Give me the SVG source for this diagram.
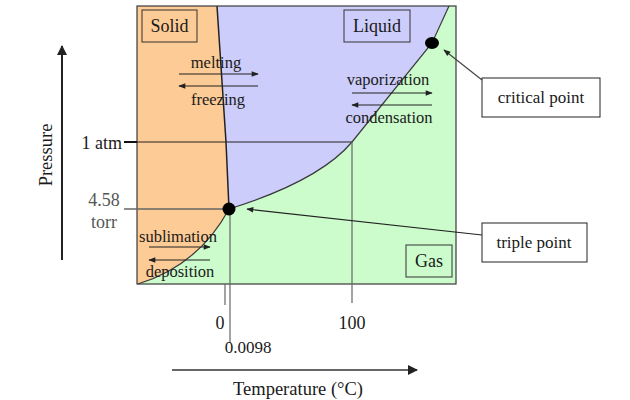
<svg xmlns="http://www.w3.org/2000/svg" width="630" height="400" viewBox="0 0 630 400">
<defs>
<style>
text{font-family:"Liberation Serif","Times New Roman",serif;fill:#1a1a1a;}
.lbl{font-size:16.5px;}
.big{font-size:18px;}
.ax{font-size:17px;}
.axt{font-size:18.5px;}
.grey{fill:#555;}
.bnd{fill:none;stroke:#3a3a3a;stroke-width:1.2;}
.guide{fill:none;stroke:#222;stroke-width:1;}
.gguide{fill:none;stroke:#666;stroke-width:1.5;}
.arr{stroke:#222;stroke-width:1.2;fill:none;marker-end:url(#ah);}
.box{stroke:#333;stroke-width:1;}
.cbox{fill:#fff;stroke:#222;stroke-width:1;}
</style>
<marker id="ah" viewBox="0 0 10 10" refX="9" refY="5" markerWidth="8" markerHeight="7" markerUnits="userSpaceOnUse" orient="auto">
<path d="M0,1 L10,5 L0,9 z" fill="#222"/>
</marker>
<marker id="bigah" viewBox="0 0 10 10" refX="9" refY="5" markerWidth="12" markerHeight="10" markerUnits="userSpaceOnUse" orient="auto">
<path d="M0,0 L10,5 L0,10 z" fill="#222"/>
</marker>
</defs>
<rect width="630" height="400" fill="#fff"/>

<g id="phase-regions">
<rect id="gas-region" x="137" y="6" width="319" height="278" fill="#ccfccc"/>
<path id="liquid-region" d="M217,6 L449,6 L432,43 L352,142 C330,168 290,190 229,209 L226,142 Z" fill="#cccdfb"/>
<path id="solid-region" d="M137,6 L217,6 L226,142 L229,209 C215,235 190,268 138,284 L137,284 Z" fill="#fdcb95"/>
</g>

<g id="boundaries">
<path class="bnd" d="M217,6 Q222,80 226,142 L229,209" style="stroke:#222;stroke-width:1.5"/>
<path class="bnd" d="M229,209 C215,235 190,268 138,284"/>
<path class="bnd" d="M229,209 C290,190 330,168 352,142 L432,43 L449,6"/>
<rect x="137" y="6" width="319" height="278" fill="none" stroke="#3a3a3a" stroke-width="1.2"/>
</g>

<g id="guides">
<line class="guide" x1="137" y1="142" x2="352" y2="142"/>
<line x1="124" y1="142" x2="137" y2="142" stroke="#111" stroke-width="2"/>
<line class="gguide" x1="124" y1="209" x2="229" y2="209"/>
<line class="gguide" x1="352" y1="142" x2="352" y2="303" style="stroke-width:1.2"/>
<line class="gguide" x1="225" y1="284" x2="225" y2="305" style="stroke-width:1.2"/>
<line class="gguide" x1="230" y1="209" x2="230" y2="343" style="stroke-width:1.2"/>
</g>

<g id="axes">
<line x1="62" y1="260" x2="62" y2="46" stroke="#222" stroke-width="2" marker-end="url(#bigah)"/>
<text class="axt" transform="translate(52,155) rotate(-90)" text-anchor="middle">Pressure</text>
<line x1="172" y1="370" x2="417" y2="370" stroke="#333" stroke-width="1.5" marker-end="url(#bigah)"/>
<text class="axt" x="298" y="395" text-anchor="middle">Temperature (°C)</text>
<text class="big" x="122" y="149" text-anchor="end">1 atm</text>
<text class="big grey" x="104" y="206" text-anchor="middle">4.58</text>
<text class="big grey" x="104" y="228" text-anchor="middle">torr</text>
<text class="big" x="220" y="329" text-anchor="middle">0</text>
<text class="big" x="352" y="329" text-anchor="middle">100</text>
<text class="ax" x="248" y="353" text-anchor="middle">0.0098</text>
</g>

<g id="solid-label">
<rect class="box" x="142" y="10" width="55" height="32" fill="#fdcb95"/>
<text class="big" x="169.5" y="32" text-anchor="middle">Solid</text>
</g>
<g id="liquid-label">
<rect class="box" x="344" y="10" width="66" height="32" fill="#cccdfb"/>
<text class="big" x="377" y="32" text-anchor="middle">Liquid</text>
</g>
<g id="gas-label">
<rect class="box" x="406" y="245" width="46" height="32" fill="#ccfccc" stroke="#4a6a4a"/>
<text class="big" x="429" y="267" text-anchor="middle">Gas</text>
</g>

<g id="transitions">
<text class="lbl" x="216" y="68" text-anchor="middle">melting</text>
<line class="arr" x1="179" y1="74" x2="258" y2="74"/>
<line class="arr" x1="258" y1="86" x2="179" y2="86"/>
<text class="lbl" x="218" y="105" text-anchor="middle">freezing</text>
<text class="lbl" x="388" y="85" text-anchor="middle">vaporization</text>
<line class="arr" x1="352" y1="93" x2="432" y2="93"/>
<line class="arr" x1="432" y1="105" x2="352" y2="105"/>
<text class="lbl" x="389" y="123" text-anchor="middle">condensation</text>
<text class="lbl" x="178" y="242" text-anchor="middle">sublimation</text>
<line class="arr" x1="149" y1="247" x2="210" y2="247"/>
<line class="arr" x1="210" y1="260" x2="149" y2="260"/>
<text class="lbl" x="180" y="277" text-anchor="middle">deposition</text>
</g>

<g id="triple-point-dot"><ellipse cx="229" cy="209" rx="6.5" ry="6.5" fill="#000"/></g>
<g id="critical-point-dot"><ellipse cx="432" cy="43" rx="7" ry="6" fill="#000"/></g>

<g id="critical-point">
<rect class="cbox" x="482" y="78" width="118" height="39"/>
<text class="ax" x="541" y="103" text-anchor="middle">critical point</text>
</g>
<g id="triple-point">
<rect class="cbox" x="482" y="223" width="105" height="39"/>
<text class="ax" x="534" y="248" text-anchor="middle">triple point</text>
</g>

<g id="connectors">
<line class="arr" x1="482" y1="80" x2="444" y2="50" style="stroke:#444"/>
<line class="arr" x1="482" y1="235" x2="247" y2="209"/>
</g>
</svg>
